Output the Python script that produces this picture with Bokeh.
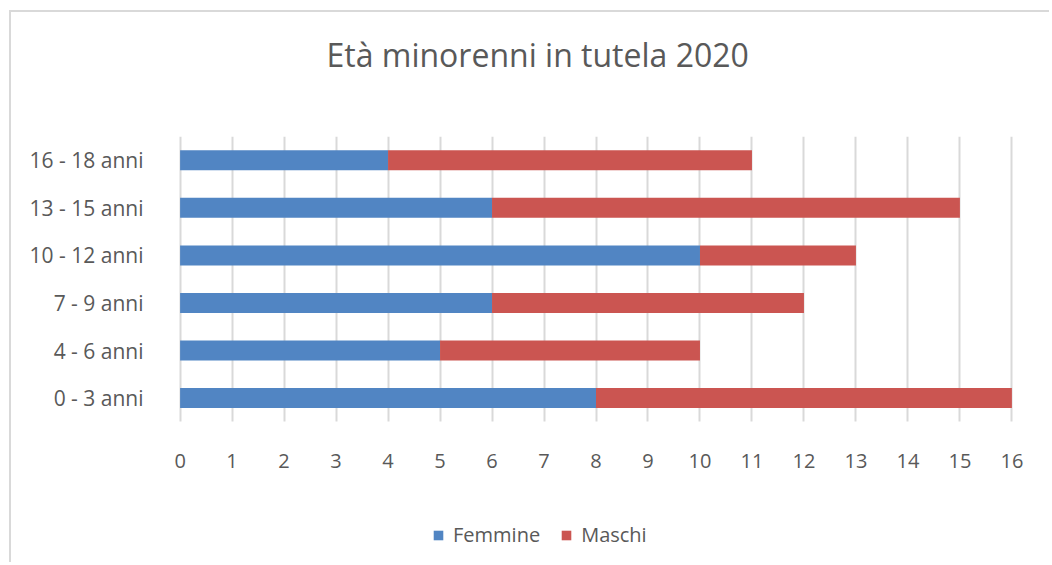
from bokeh.plotting import figure
from bokeh.models import FactorRange, Range1d, Legend, LegendItem, FixedTicker, Title
from bokeh.embed import file_html
from bokeh.resources import INLINE

categories = ["0 - 3 anni", "4 - 6 anni", "7 - 9 anni", "10 - 12 anni", "13 - 15 anni", "16 - 18 anni"]
femmine = [8, 5, 6, 10, 6, 4]
maschi = [8, 5, 6, 3, 9, 7]
x_ticks = list(range(0, 17))
series = ["Femmine", "Maschi"]
colors = ["#5185C3", "#CB5551"]
pad_factors = [" ", "  ", "   "]   # empty rows below the bars (room for axis labels and legend)

TXT = "#595959"
FONT = "Open Sans"

p = figure(width=1040, height=552, y_range=FactorRange(factors=pad_factors + categories, range_padding=0),
           x_range=Range1d(-0.3, 16.3), output_backend="svg", toolbar_location=None,
           x_axis_location="above",
           min_border_left=153, min_border_right=24, min_border_top=124, min_border_bottom=0)
p.styles = {"position": "relative", "left": "9px", "top": "10px",
            "border-top": "2px solid #D9D9D9", "border-left": "2px solid #D9D9D9"}
p.outline_line_color = None

spacer = Title(text=" ", text_font_size="1px", standoff=53)
p.add_layout(spacer, "above")
title = Title(text="Età minorenni in tutela 2020", text_font=FONT, text_font_size="32px",
              text_font_style="normal", text_color=TXT, align="left", offset=162, standoff=10)
p.add_layout(title, "above")

data = dict(cat=categories, Femmine=femmine, Maschi=maschi)
rs = p.hbar_stack(series, y="cat", height=0.42, color=colors, source=data, line_color=None)

p.xaxis.ticker = FixedTicker(ticks=x_ticks)
p.xaxis.fixed_location = 1.99
p.xaxis.axis_line_color = None
p.xaxis.major_tick_line_color = None
p.xaxis.minor_tick_line_color = None
p.xaxis.major_tick_out = 0
p.xaxis.major_tick_in = 0
p.xaxis.major_label_standoff = 2
p.xaxis.major_label_text_font = FONT
p.xaxis.major_label_text_font_size = "20px"
p.xaxis.major_label_text_color = TXT

p.yaxis.axis_line_color = None
p.yaxis.major_tick_line_color = None
p.yaxis.major_label_standoff = 15
p.yaxis.major_label_text_font = FONT
p.yaxis.major_label_text_font_size = "21px"
p.yaxis.major_label_text_color = TXT

p.ygrid.grid_line_color = None
p.xgrid.grid_line_color = "#D9D9D9"
p.xgrid.grid_line_width = 2
p.xgrid.cross_bounds = (3, 9)

legend = Legend(items=[LegendItem(label=s, renderers=[r]) for s, r in zip(series, rs)],
                orientation="horizontal", location=(268, 16), border_line_color=None,
                background_fill_alpha=0, padding=4, margin=0, spacing=20, label_standoff=9,
                glyph_width=12, glyph_height=12, label_text_font=FONT,
                label_text_font_size="20px", label_text_color=TXT)
p.add_layout(legend, "center")

open("out.html", "w").write(file_html(p, INLINE))
